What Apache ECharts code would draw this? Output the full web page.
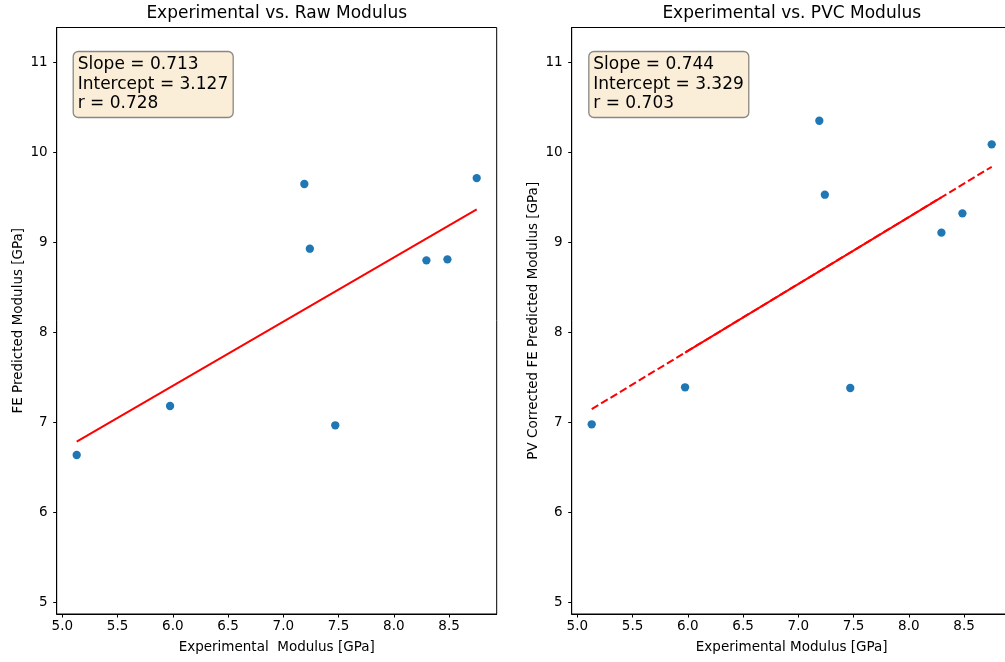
<!DOCTYPE html>
<html>
<head>
<meta charset="utf-8">
<script src="https://cdn.jsdelivr.net/npm/echarts@6/dist/echarts.min.js"></script>
<style>
html,body{margin:0;padding:0;background:#fff;}
#chart{width:1005px;height:662px;}
</style>
</head>
<body>
<div id="chart"></div>
<script>
// ---- data ----
const expModulus = [5.13, 5.975, 7.19, 7.24, 7.47, 8.295, 8.485, 8.75];
const rawFE      = [6.637, 7.181, 9.648, 8.929, 6.967, 8.800, 8.811, 9.714];
const pvcFE      = [6.978, 7.389, 10.351, 9.529, 7.381, 9.107, 9.322, 10.089];
// fitted lines, end points
const rawFitX = [5.13, 8.75];
const rawFitY = [6.785, 9.366];
const pvcFitX = [5.13, 8.75];
const pvcFitY = [7.146, 9.839];
// segment where the overplotted dashed fit looks solid
const pvcOverlapX = [5.975, 8.295];
const pvcOverlapY = [7.775, 9.500];
const rawStats = {slope: '0.713', intercept: '3.127', r: '0.728'};
const pvcStats = {slope: '0.744', intercept: '3.329', r: '0.703'};
const xTicks = [5.0, 5.5, 6.0, 6.5, 7.0, 7.5, 8.0, 8.5];
const yTicks = [5, 6, 7, 8, 9, 10, 11];
const titles = ['Experimental vs. Raw Modulus', 'Experimental vs. PVC Modulus'];
const xNames = ['Experimental  Modulus [GPa]', 'Experimental Modulus [GPa]'];
const yNames = ['FE Predicted Modulus [GPa]', 'PV Corrected FE Predicted Modulus [GPa]'];

const FONT = 'DejaVu Sans';
const chart = echarts.init(document.getElementById('chart'), null, {renderer: 'canvas'});

const pair = (xs, ys) => xs.map((x, i) => [x, ys[i]]);

function xAxis(i) {
  return {
    type: 'value', gridIndex: i, min: 4.949, max: 8.931,
    name: xNames[i], nameLocation: 'middle', nameGap: 26,
    nameTextStyle: {fontFamily: FONT, fontSize: 13.5, color: '#000'},
    axisLine: {show: true, onZero: false, lineStyle: {color: '#000', width: 1}},
    axisTick: {show: true, inside: false, length: 3.5, lineStyle: {color: '#000'}, customValues: xTicks},
    axisLabel: {show: true, margin: 5, fontFamily: FONT, fontSize: 13.5, color: '#000',
      customValues: xTicks, formatter: v => v.toFixed(1)},
    splitLine: {show: false}
  };
}
function yAxis(i) {
  return {
    type: 'value', gridIndex: i, min: 4.87, max: 11.387,
    name: yNames[i], nameLocation: 'middle', nameGap: 31, nameRotate: 90,
    nameTextStyle: {fontFamily: FONT, fontSize: 13.5, color: '#000'},
    axisLine: {show: true, onZero: false, lineStyle: {color: '#000', width: 1}},
    axisTick: {show: true, inside: false, length: 3.5, lineStyle: {color: '#000'}, customValues: yTicks},
    axisLabel: {show: true, margin: 9, fontFamily: FONT, fontSize: 13.5, color: '#000',
      customValues: yTicks, formatter: v => String(v)},
    splitLine: {show: false}
  };
}
function statBox(s, left) {
  return {
    text: 'Slope = ' + s.slope + '\nIntercept = ' + s.intercept + '\nr = ' + s.r,
    left: left, top: 51,
    padding: [4, 5, 4, 5],
    backgroundColor: 'rgba(245,222,179,0.5)',
    borderColor: 'rgba(0,0,0,0.45)', borderWidth: 1.3, borderRadius: 5,
    textStyle: {fontFamily: FONT, fontSize: 17, fontWeight: 'normal', color: '#000', lineHeight: 19.5}
  };
}

const option = {
  backgroundColor: '#fff',
  animation: false,
  title: [statBox(rawStats, 72.7), statBox(pvcStats, 588.3)],
  graphic: [
    {type: 'text', x: 276.7, y: 14, style: {text: titles[0], font: '17px "DejaVu Sans"', fill: '#000', align: 'center', verticalAlign: 'middle'}},
    {type: 'text', x: 791.7, y: 14, style: {text: titles[1], font: '17px "DejaVu Sans"', fill: '#000', align: 'center', verticalAlign: 'middle'}}
  ],
  grid: [
    {left: 56.7, top: 27.5, width: 440, height: 586.5, show: true, borderColor: '#000', borderWidth: 1,
      backgroundColor: 'transparent', outerBoundsMode: 'none', containLabel: false},
    {left: 571.7, top: 27.5, width: 440, height: 586.5, show: true, borderColor: '#000', borderWidth: 1,
      backgroundColor: 'transparent', outerBoundsMode: 'none', containLabel: false}
  ],
  xAxis: [xAxis(0), xAxis(1)],
  yAxis: [yAxis(0), yAxis(1)],
  series: [
    {type: 'line', xAxisIndex: 0, yAxisIndex: 0, data: pair(rawFitX, rawFitY), symbol: 'none',
      lineStyle: {color: '#ff0000', width: 2}, z: 2},
    {type: 'scatter', xAxisIndex: 0, yAxisIndex: 0, data: pair(expModulus, rawFE), symbolSize: 8.3,
      itemStyle: {color: '#1f77b4', opacity: 1}, z: 3},
    {type: 'line', xAxisIndex: 1, yAxisIndex: 1, data: pair(pvcFitX, pvcFitY), symbol: 'none',
      lineStyle: {color: '#ff0000', width: 2, type: [7.7, 3.3]}, z: 2},
    {type: 'line', xAxisIndex: 1, yAxisIndex: 1, data: pair(pvcOverlapX, pvcOverlapY), symbol: 'none',
      lineStyle: {color: '#ff0000', width: 2}, z: 2},
    {type: 'scatter', xAxisIndex: 1, yAxisIndex: 1, data: pair(expModulus, pvcFE), symbolSize: 8.3,
      itemStyle: {color: '#1f77b4', opacity: 1}, z: 3}
  ]
};
chart.setOption(option);
</script>
</body>
</html>
